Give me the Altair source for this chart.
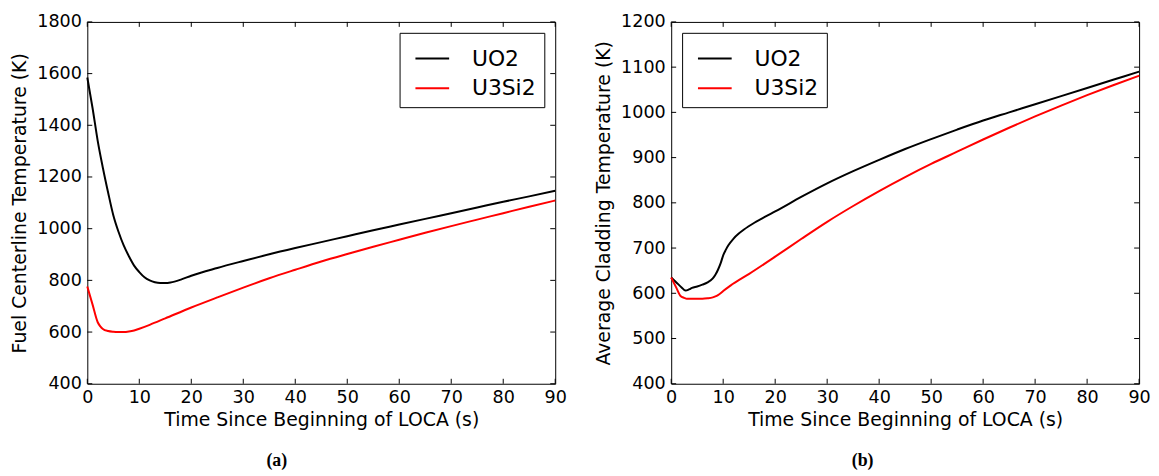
import altair as alt
import pandas as pd

materials = ["UO2", "U3Si2"]
colors = ["black", "red"]

# Panel (a): fuel centerline temperature
a_uo2_t = [0, 1, 2, 3, 4, 5, 6, 7, 8, 9, 10, 11, 12, 13, 14, 15, 16, 18, 20, 25, 30, 35, 40, 45, 50, 55, 60, 65, 70, 75, 80, 85, 90]
a_uo2_v = [1585, 1468, 1340, 1235, 1140, 1052, 988, 935, 893, 857, 832, 812, 800, 793, 790, 790, 792, 803, 818, 848, 875, 901, 925, 948, 971, 994, 1016, 1038, 1060, 1082, 1104, 1125, 1147]
a_u3si2_t = [0, 1, 2, 2.5, 3, 4, 5, 6, 7, 8, 9, 10, 12, 15, 20, 25, 30, 35, 40, 45, 50, 55, 60, 65, 70, 75, 80, 85, 90]
a_u3si2_v = [776, 707, 638, 622, 612, 604, 601, 600, 600, 602, 606, 613, 628, 653, 695, 734, 772, 808, 841, 873, 902, 930, 957, 984, 1010, 1035, 1060, 1085, 1109]

# Panel (b): average cladding temperature
b_uo2_t = [0, 1, 2, 2.75, 3.5, 4, 5, 6, 7, 8, 8.5, 9, 9.5, 10, 10.5, 11, 12, 13, 14, 16, 18, 20, 25, 30, 35, 40, 45, 50, 55, 60, 65, 70, 75, 80, 85, 90]
b_uo2_v = [635, 624, 613, 606, 609, 612, 615, 619, 624, 633, 641, 652, 666, 684, 696, 706, 721, 732, 741, 756, 769, 781, 813, 843, 870, 895, 919, 941, 962, 982, 1000, 1018, 1036, 1054, 1072, 1090]
b_u3si2_t = [0, 1, 1.8, 2.5, 3, 4, 5, 6, 7, 8, 8.5, 9, 9.5, 10, 11.4, 15, 20, 25, 30, 35, 40, 45, 50, 55, 60, 65, 70, 75, 80, 85, 90]
b_u3si2_v = [635, 612, 594, 590, 588, 588, 588, 588, 589, 591, 593, 596, 600, 605, 617, 643, 681, 720, 758, 793, 826, 857, 886, 913, 940, 966, 991, 1015, 1038, 1060, 1081]

x_ticks = [0, 10, 20, 30, 40, 50, 60, 70, 80, 90]
a_y_ticks = [400, 600, 800, 1000, 1200, 1400, 1600, 1800]
b_y_ticks = [400, 500, 600, 700, 800, 900, 1000, 1100, 1200]

W, H = 472, 365
FONT = "DejaVu Sans"
FS = 17.7
TFS = 19


def long_df(t1, v1, t2, v2):
    d1 = pd.DataFrame({"t": t1, "v": v1, "material": materials[0], "order": range(len(t1))})
    d2 = pd.DataFrame({"t": t2, "v": v2, "material": materials[1], "order": range(len(t2))})
    return pd.concat([d1, d2], ignore_index=True)


def panel(df, yticks, ytitle, legend_orient, caption, cap_dx):
    xs = alt.Scale(domain=[0, 90], nice=False, zero=False)
    ys = alt.Scale(domain=[yticks[0], yticks[-1]], nice=False, zero=False)
    xaxis = alt.Axis(values=x_ticks, title="Time Since Beginning of LOCA (s)", ticks=False, domain=False,
                     grid=False, labelPadding=5, titlePadding=4, format="d", labelFlush=False,
                     labelOverlap=False)
    yaxis = alt.Axis(values=yticks, title=ytitle, ticks=False, domain=False, grid=False,
                     labelPadding=6, titlePadding=7, format="d", labelFlush=False, labelOverlap=False)
    lines = alt.Chart(df).mark_line(strokeWidth=2, interpolate="monotone").encode(
        x=alt.X("t:Q", scale=xs, axis=xaxis),
        y=alt.Y("v:Q", scale=ys, axis=yaxis),
        color=alt.Color("material:N", scale=alt.Scale(domain=materials, range=colors),
                        legend=alt.Legend(orient=legend_orient, title=None, symbolType="stroke",
                                          symbolSize=1156, symbolStrokeWidth=2, labelFont=FONT,
                                          labelFontSize=22, labelColor="black", labelOffset=22,
                                          symbolOffset=7,
                                          strokeColor="black", fillColor="white", padding=8,
                                          offset=11, rowPadding=1, cornerRadius=0)),
        order="order:Q",
    )
    xt = pd.DataFrame({"v": x_ticks})
    yt = pd.DataFrame({"v": yticks})
    tick_style = dict(color="black", strokeWidth=1)
    xb = alt.Chart(xt).mark_rule(**tick_style).encode(
        x=alt.X("v:Q", scale=xs, axis=xaxis), y=alt.value(H), y2=alt.value(H - 5))
    xtp = alt.Chart(xt).mark_rule(**tick_style).encode(
        x=alt.X("v:Q", scale=xs, axis=xaxis), y=alt.value(0), y2=alt.value(5))
    yl = alt.Chart(yt).mark_rule(**tick_style).encode(
        y=alt.Y("v:Q", scale=ys, axis=yaxis), x=alt.value(0), x2=alt.value(5))
    yr = alt.Chart(yt).mark_rule(**tick_style).encode(
        y=alt.Y("v:Q", scale=ys, axis=yaxis), x=alt.value(W - 5), x2=alt.value(W))
    return alt.layer(lines, xb, xtp, yl, yr).properties(
        width=W, height=H,
        title=alt.TitleParams(caption, orient="bottom", anchor="middle", frame="bounds",
                              font="Liberation Serif", fontSize=18, fontWeight="bold",
                              color="black", offset=23, dx=cap_dx),
    )


pa = panel(long_df(a_uo2_t, a_uo2_v, a_u3si2_t, a_u3si2_v), a_y_ticks,
           "Fuel Centerline Temperature (K)", "top-right", "(a)", -12)
pb = panel(long_df(b_uo2_t, b_uo2_v, b_u3si2_t, b_u3si2_v), b_y_ticks,
           "Average Cladding Temperature (K)", "top-left", "(b)", -10)

chart = alt.hconcat(pa, pb, spacing=27).resolve_scale(color="independent").resolve_legend(
    color="independent"
).properties(
    padding={"left": 2, "top": 2, "right": 0, "bottom": 0}
).configure_view(stroke="black", strokeWidth=1).configure_axis(
    labelFont=FONT, labelFontSize=FS, labelColor="black",
    titleFont=FONT, titleFontSize=TFS, titleFontWeight="normal", titleColor="black",
)

chart.save("out.html", embed_options={"renderer": "svg", "actions": False})
